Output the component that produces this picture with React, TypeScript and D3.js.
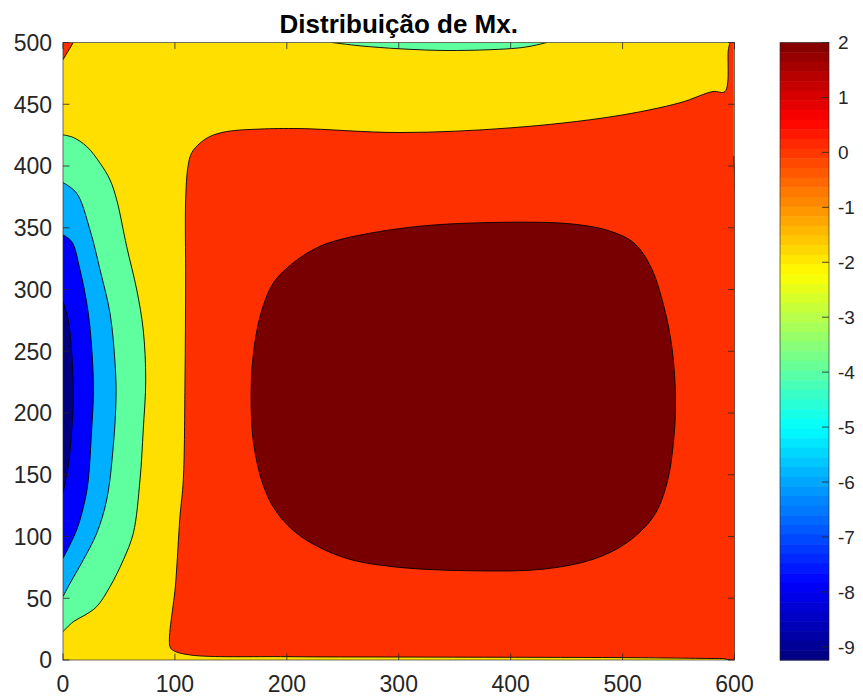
import * as d3 from "d3";

type Pt = [number, number];

const W = 863;
const H = 698;

const xTicks = [0, 100, 200, 300, 400, 500, 600];
const yTicks = [0, 50, 100, 150, 200, 250, 300, 350, 400, 450, 500];
const cbTicks = [2, 1, 0, -1, -2, -3, -4, -5, -6, -7, -8, -9];
const cbRange: Pt = [-9.24, 2];

// fill colour of each contour band, lowest to highest
const bandColors = {
  navy: "#000080",
  blue: "#0000FF",
  sky: "#00AFFF",
  mint: "#5FFF9F",
  yellow: "#FFDF00",
  red: "#FF3000",
  maroon: "#780000",
};

// contour lines, in data units (x, y)
const redLine: Pt[] = [
  [599.4, 408], [599.4, 1], [589.4, 1.1], [503.7, 1.9], [301.1, 2.4], [199.9, 2.7],
  [114.2, 4.0], [98.6, 7.7], [95.6, 10.8], [100.7, 62.4], [104.5, 115.8],
  [107.5, 145.8], [109.0, 226.8], [109.6, 307.8], [109.6, 372.6], [111.7, 399.6],
  [115.0, 410.7], [122.4, 418.5], [131.3, 423.9], [146.3, 427.9], [176.0, 429.9],
  [211.8, 430.3], [301.1, 427.1], [400.3, 430.9], [491.4, 440.1], [551.3, 451.2],
  [580.8, 460.3], [591.5, 460.3], [594.5, 494.1], [596.0, 500],
];
const redClose: Pt[] = [[599.4, 500]];

const maroonLine: Pt[] = [
  [414.6, 354.5], [319.2, 351.3], [250.6, 341.1], [226.9, 333.8], [205.9, 321.7],
  [188.1, 305.5], [176.2, 278.5], [169.6, 243.4], [168.1, 211.1], [170.2, 176.1],
  [179.1, 141.0], [191.1, 119.5], [211.9, 100.5], [250.6, 83.1], [295.4, 75.5],
  [369.9, 72.2], [429.5, 73.6], [474.2, 81.7], [504.1, 95.2], [527.9, 116.7],
  [539.8, 143.7], [545.7, 178.7], [547.3, 211.1], [544.3, 251.5], [536.8, 286.6],
  [524.9, 318.9], [510.0, 337.8], [489.1, 347.2], [459.4, 352.6],
];

const cornerRedLine: Pt[] = [[0, 486.1], [9.2, 500]];

const topMintLine: Pt[] = [
  [240.1, 500], [265.4, 497.3], [301.1, 494.9], [345.8, 493.5], [400.9, 495.1],
  [417.3, 496.9], [432.2, 500],
];

const mintLine: Pt[] = [
  [0, 425.2], [9.2, 423.1], [21.2, 415.8], [33.1, 402.3], [42.0, 388.8], [48.0, 372.6],
  [56.9, 334.8], [65.9, 299.7], [71.7, 267.3], [73.9, 226.8], [71.7, 186.3],
  [68.8, 145.8], [62.8, 102.6], [53.9, 81.0], [42.0, 59.4], [30.1, 43.2],
  [19.7, 36.4], [9.2, 31.0], [0, 22.9],
];

const skyLine: Pt[] = [
  [0, 386.6], [12.2, 378.0], [24.1, 348.3], [33.1, 315.9], [42.0, 280.8], [46.5, 240.3],
  [47.4, 213.3], [44.9, 172.8], [39.0, 129.6], [30.1, 102.6], [18.1, 81.0],
  [6.3, 62.1], [0, 51.3],
];

const blueLine: Pt[] = [
  [0, 344.2], [7.8, 338.8], [15.2, 315.9], [22.6, 280.8], [26.5, 240.3], [27.1, 213.3],
  [25.6, 186.3], [22.6, 145.8], [19.7, 129.6], [12.2, 105.3], [0, 82.4],
];

const navyLine: Pt[] = [
  [0, 290.2], [4.7, 275.4], [7.8, 248.4], [9.2, 213.3], [7.8, 186.3], [4.7, 156.6],
  [1.8, 143.1], [0, 135.0],
];

// MATLAB-like jet
const jet = (t: number) => {
  const c = (v: number) => Math.round(255 * Math.max(0, Math.min(1, v)));
  return `rgb(${c(1.5 - Math.abs(4 * t - 3))},${c(1.5 - Math.abs(4 * t - 2))},${c(1.5 - Math.abs(4 * t - 1))})`;
};

export default function App() {
  const x = d3.scaleLinear().domain([0, 600]).range([63, 734.5]);
  const y = d3.scaleLinear().domain([0, 500]).range([660, 42.5]);
  const cb = d3.scaleLinear().domain(cbRange).range([660, 42.5]);
  const cbX0 = 780;
  const cbX1 = 829;

  const line = d3
    .line<Pt>()
    .x((d) => x(d[0]))
    .y((d) => y(d[1]))
    .curve(d3.curveCatmullRom.alpha(0.5));
  const closedLine = d3
    .line<Pt>()
    .x((d) => x(d[0]))
    .y((d) => y(d[1]))
    .curve(d3.curveCatmullRomClosed.alpha(0.5));

  const region = (pts: Pt[], extra: Pt[] = []) =>
    line(pts) + extra.map((p) => `L${x(p[0])},${y(p[1])}`).join("") + "Z";

  const regions = [
    { d: region(redLine, redClose), stroke: line(redLine), fill: bandColors.red },
    { d: closedLine(maroonLine), stroke: closedLine(maroonLine), fill: bandColors.maroon },
    { d: region(cornerRedLine, [[0, 500]]), stroke: line(cornerRedLine), fill: bandColors.red },
    { d: region(topMintLine), stroke: line(topMintLine), fill: bandColors.mint },
    { d: region(mintLine), stroke: line(mintLine), fill: bandColors.mint },
    { d: region(skyLine), stroke: line(skyLine), fill: bandColors.sky },
    { d: region(blueLine), stroke: line(blueLine), fill: bandColors.blue },
    { d: region(navyLine), stroke: line(navyLine), fill: bandColors.navy },
  ];

  const nBands = 64;
  const bandH = (cb.range()[0] - cb.range()[1]) / nBands;
  const bands = d3.range(nBands).map((i) => ({ y: cb.range()[1] + i * bandH, t: 1 - (i + 0.5) / nBands }));

  const font = "'Liberation Sans', Arial, Helvetica, sans-serif";
  const axisColor = "#262626";
  const tickLen = 6.5;

  return (
    <svg width={W} height={H} style={{ position: "absolute", left: 0, top: 0, background: "#fff" }} fontFamily={font}>
      <defs>
        <clipPath id="plotClip">
          <rect x={x(0)} y={y(500)} width={x(600) - x(0)} height={y(0) - y(500)} />
        </clipPath>
      </defs>
      <g clipPath="url(#plotClip)">
        <rect x={x(0)} y={y(500)} width={x(600) - x(0)} height={y(0) - y(500)} fill={bandColors.yellow} />
        {regions.map((r, i) => (
          <g key={i}>
            <path d={r.d} fill={r.fill} stroke="none" />
            <path d={r.stroke || ""} fill="none" stroke="#000" strokeWidth={0.9} />
          </g>
        ))}
      </g>

      {/* axes box and ticks */}
      <rect x={x(0)} y={y(500)} width={x(600) - x(0)} height={y(0) - y(500)} fill="none" stroke={axisColor} strokeWidth={0.8} strokeOpacity={0.8} />
      {xTicks.map((t) => (
        <g key={"x" + t}>
          <line x1={x(t)} x2={x(t)} y1={y(0)} y2={y(0) - tickLen} stroke={axisColor} strokeWidth={0.8} />
          <line x1={x(t)} x2={x(t)} y1={y(500)} y2={y(500) + tickLen} stroke={axisColor} strokeWidth={0.8} />
          <text x={x(t)} y={692} textAnchor="middle" fontSize={23} fill={axisColor}>
            {t}
          </text>
        </g>
      ))}
      {yTicks.map((t) => (
        <g key={"y" + t}>
          <line x1={x(0)} x2={x(0) + tickLen} y1={y(t)} y2={y(t)} stroke={axisColor} strokeWidth={0.8} />
          <line x1={x(600)} x2={x(600) - tickLen} y1={y(t)} y2={y(t)} stroke={axisColor} strokeWidth={0.8} />
          <text x={52} y={y(t)} dy="0.36em" textAnchor="end" fontSize={23} fill={axisColor}>
            {t}
          </text>
        </g>
      ))}

      <text x={(x(0) + x(600)) / 2} y={33} textAnchor="middle" fontSize={26} fontWeight="bold" fill="#000">
        Distribuição de Mx.
      </text>

      {/* colorbar */}
      {bands.map((b, i) => (
        <rect key={i} x={cbX0} y={b.y} width={cbX1 - cbX0} height={bandH + 0.5} fill={jet(b.t)} />
      ))}
      <rect x={cbX0} y={cb.range()[1]} width={cbX1 - cbX0} height={cb.range()[0] - cb.range()[1]} fill="none" stroke={axisColor} strokeWidth={0.8} strokeOpacity={0.8} />
      {cbTicks.map((t) => (
        <g key={"c" + t}>
          <line x1={cbX1} x2={cbX1 - 7} y1={cb(t)} y2={cb(t)} stroke={axisColor} strokeWidth={0.8} />
          <text x={838} y={cb(t)} dy="0.36em" fontSize={19} fill={axisColor}>
            {t}
          </text>
        </g>
      ))}
    </svg>
  );
}
